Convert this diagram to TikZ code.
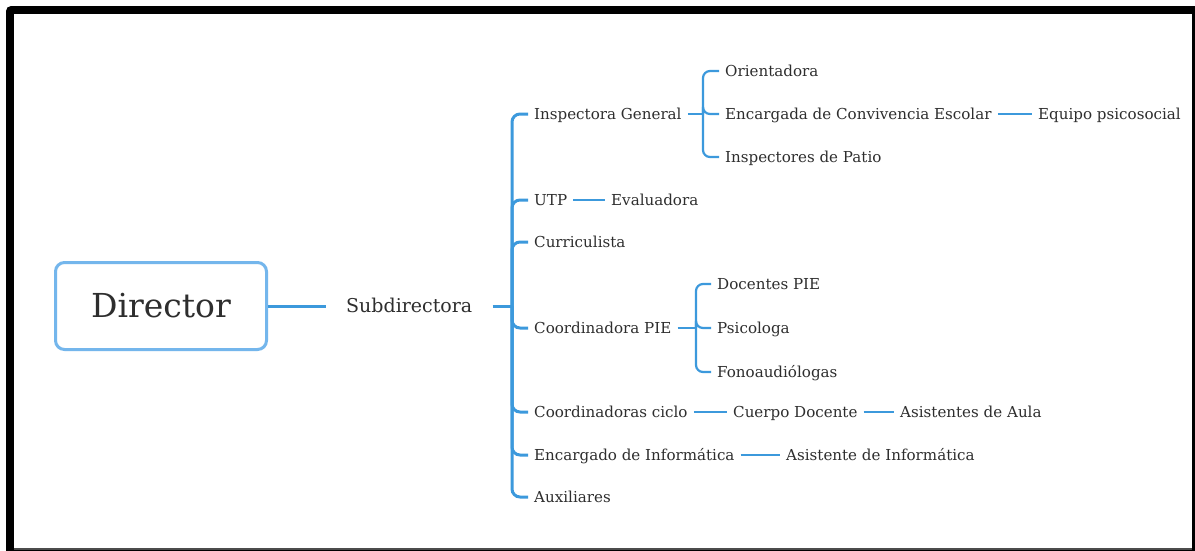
\documentclass[tikz,border=0pt]{standalone}
\usepackage{fontspec}
\setmainfont{DejaVu Serif}
\definecolor{lb}{HTML}{3C99DC}
\definecolor{bb}{HTML}{74B6EC}
\definecolor{tx}{HTML}{2E2E2E}
\begin{document}
\begin{tikzpicture}[x=1pt,y=-1pt,
  lbl/.style={anchor=west, inner xsep=6pt, inner ysep=0pt, text=tx,
    font=\fontsize{15.1}{18}\selectfont, text height=11pt, text depth=0pt},
  sublbl/.style={lbl, inner xsep=20pt, font=\fontsize{19}{22}\selectfont, text height=13.8pt},
  rootbox/.style={draw=bb, line width=3pt, rounded corners=9pt, minimum width=211pt,
    minimum height=87pt, text=tx, font=\fontsize{33}{38}\selectfont},
  thk/.style={draw=lb, line width=3pt, rounded corners=8pt},
  br/.style={draw=lb, line width=2.2pt, rounded corners=7pt}]
\useasboundingbox (0,0) rectangle (1195,550);
% frame
\fill[black, rounded corners=5pt] (6,6) rectangle (1205,560);
\fill[white] (14,14) rectangle (1192,548);
\fill[black!70] (14,548) rectangle (1192,550);
% nodes
\node[rootbox] (dir) at (161,306) {Director};
\node[sublbl] (sub) at (326,306) {Subdirectora};
\node[lbl] (ig) at (528,114) {Inspectora General};
\node[lbl] (ori) at (719,71) {Orientadora};
\node[lbl] (enc) at (719,114) {Encargada de Convivencia Escolar};
\node[lbl] (eq) at (1032,114) {Equipo psicosocial};
\node[lbl] (ins) at (719,157) {Inspectores de Patio};
\node[lbl] (utp) at (528,200) {UTP};
\node[lbl] (eva) at (605,200) {Evaluadora};
\node[lbl] (cur) at (528,242) {Curriculista};
\node[lbl] (cpie) at (528,328) {Coordinadora PIE};
\node[lbl] (dpie) at (711,284) {Docentes PIE};
\node[lbl] (psi) at (711,328) {Psicologa};
\node[lbl] (fono) at (711,372) {Fonoaudiólogas};
\node[lbl] (cc) at (528,412) {Coordinadoras ciclo};
\node[lbl] (cd) at (727,412) {Cuerpo Docente};
\node[lbl] (aa) at (894,412) {Asistentes de Aula};
\node[lbl] (ei) at (528,455) {Encargado de Informática};
\node[lbl] (ai) at (780,455) {Asistente de Informática};
\node[lbl] (aux) at (528,497) {Auxiliares};
% connectors
\coordinate (mb) at (512,306);
\coordinate (igb) at (703,114);
\coordinate (cpb) at (696,328);
\draw[thk] (dir.east) -- (sub.west);
\draw[thk] (sub.east) -- (mb);
\foreach \n in {ig,utp,cur,cpie,cc,ei,aux} \draw[thk] (mb) |- (\n.west);
\draw[br] (ig.east) -- (igb);
\foreach \n in {ori,enc,ins} \draw[br] (igb) |- (\n.west);
\draw[br] (enc) -- (eq);
\draw[br] (utp) -- (eva);
\draw[br] (cpie.east) -- (cpb);
\foreach \n in {dpie,psi,fono} \draw[br] (cpb) |- (\n.west);
\draw[br] (cc) -- (cd);
\draw[br] (cd) -- (aa);
\draw[br] (ei) -- (ai);
\end{tikzpicture}
\end{document}
